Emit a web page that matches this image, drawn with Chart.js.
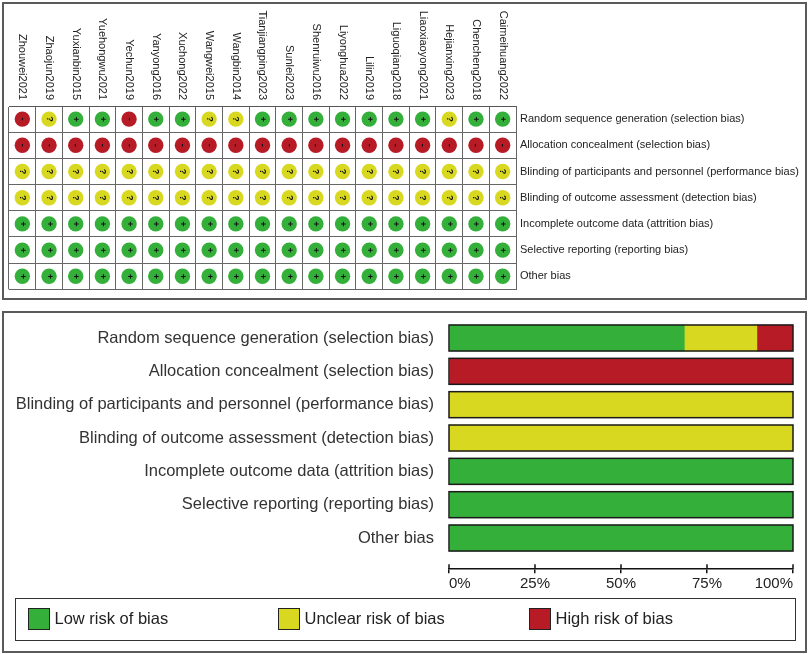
<!DOCTYPE html>
<html>
<head>
<meta charset="utf-8">
<script src="https://cdn.jsdelivr.net/npm/chart.js@4.4.1/dist/chart.umd.min.js"></script>
<style>
  html, body { margin: 0; padding: 0; background: #fff; }
  body { width: 809px; height: 654px; position: relative; overflow: hidden; font-family: "Liberation Sans", Arial, sans-serif; }
  .panel { position: absolute; box-sizing: border-box; border: 2px solid #5a5a5a; }
  #summaryPanel { left: 2px; top: 2px; width: 805px; height: 298px; }
  #graphPanel { left: 2px; top: 311px; width: 805px; height: 342px; }
  canvas { position: absolute; left: 0; }
  #summaryCanvas { top: 0; }
  #graphCanvas { top: 312px; }
  #legend { position: absolute; left: 15px; top: 598px; width: 781px; height: 43px; box-sizing: border-box; border: 1.5px solid #333; }
  .item { position: absolute; top: 8.5px; display: flex; align-items: center; font-size: 16.5px; color: #222; white-space: nowrap; }
  .swatch { width: 22px; height: 22px; box-sizing: border-box; border: 1.5px solid #222; margin-right: 5px; }
</style>
</head>
<body>
<div class="panel" id="summaryPanel"></div>
<div class="panel" id="graphPanel"></div>
<canvas id="summaryCanvas" width="809" height="300"></canvas>
<canvas id="graphCanvas" width="809" height="290"></canvas>
<div id="legend"></div>
<script>
const studies = [
  'Zhouwei2021', 'Zhaojun2019', 'Yuxianbin2015', 'Yuehongwu2021', 'Yechun2019',
  'Yanyong2016', 'Xuchong2022', 'Wangwei2015', 'Wangbin2014', 'Tianjiangping2023',
  'Sunlei2023', 'Shenruiwu2016', 'Liyonghua2022', 'Lilin2019', 'Liguoqiang2018',
  'Liaoxiaoyong2021', 'Hejianxing2023', 'Chencheng2018', 'Caimeihuang2022'
];

const domains = [
  'Random sequence generation (selection bias)',
  'Allocation concealment (selection bias)',
  'Blinding of participants and personnel (performance bias)',
  'Blinding of outcome assessment (detection bias)',
  'Incomplete outcome data (attrition bias)',
  'Selective reporting (reporting bias)',
  'Other bias'
];

// one judgement per study: '+' low, '?' unclear, '-' high
const randomSeq    = ['-','?','+','+','-','+','+','?','?','+','+','+','+','+','+','+','?','+','+'];
const allocation   = ['-','-','-','-','-','-','-','-','-','-','-','-','-','-','-','-','-','-','-'];
const blindPart    = ['?','?','?','?','?','?','?','?','?','?','?','?','?','?','?','?','?','?','?'];
const blindOutcome = ['?','?','?','?','?','?','?','?','?','?','?','?','?','?','?','?','?','?','?'];
const incomplete   = ['+','+','+','+','+','+','+','+','+','+','+','+','+','+','+','+','+','+','+'];
const selective    = ['+','+','+','+','+','+','+','+','+','+','+','+','+','+','+','+','+','+','+'];
const otherBias    = ['+','+','+','+','+','+','+','+','+','+','+','+','+','+','+','+','+','+','+'];
const judgementRows = [randomSeq, allocation, blindPart, blindOutcome, incomplete, selective, otherBias];

// percentage of studies per domain
const lowPct     = [68.4, 0, 0, 0, 100, 100, 100];
const unclearPct = [21.1, 0, 100, 100, 0, 0, 0];
const highPct    = [10.5, 100, 0, 0, 0, 0, 0];

const seriesNames = ['Low risk of bias', 'Unclear risk of bias', 'High risk of bias'];
const xTicks = [0, 25, 50, 75, 100];

const GREEN = '#33AF3A';
const YELLOW = '#D9D820';
const RED = '#B71C26';
const seriesColours = [GREEN, YELLOW, RED];
const riskColours = { '+': GREEN, '?': YELLOW, '-': RED };

const FONT = '"Liberation Sans", Arial, sans-serif';
Chart.defaults.font.family = FONT;

/* ---------- risk of bias summary grid ---------- */

const points = [];
judgementRows.forEach((row, r) => {
  row.forEach((j, c) => {
    points.push({ x: studies[c], y: domains[r], j: j });
  });
});

const glyphPlugin = {
  id: 'glyphs',
  afterDatasetsDraw(chart) {
    const ctx = chart.ctx;
    const meta = chart.getDatasetMeta(0);
    const data = chart.data.datasets[0].data;
    ctx.save();
    ctx.fillStyle = '#111';
    ctx.font = 'bold 9px ' + FONT;
    ctx.textAlign = 'center';
    ctx.textBaseline = 'middle';
    meta.data.forEach((el, i) => {
      ctx.save();
      ctx.translate(el.x, el.y);
      ctx.rotate(Math.PI / 2);
      ctx.fillText(data[i].j, 0, 0);
      ctx.restore();
    });
    ctx.restore();
  }
};

// study names read top to bottom, so they are drawn here instead of by the axis
const studyLabelPlugin = {
  id: 'studyLabels',
  afterDraw(chart) {
    const x = chart.scales.x;
    const ctx = chart.ctx;
    ctx.save();
    ctx.font = '11px ' + FONT;
    ctx.fillStyle = '#222';
    ctx.textAlign = 'right';
    ctx.textBaseline = 'middle';
    studies.forEach((name, i) => {
      ctx.save();
      ctx.translate(x.getPixelForValue(i), chart.chartArea.top - 6);
      ctx.rotate(Math.PI / 2);
      ctx.fillText(name, 0, 0);
      ctx.restore();
    });
    ctx.restore();
  }
};

new Chart(document.getElementById('summaryCanvas'), {
  type: 'scatter',
  data: {
    datasets: [{
      data: points,
      pointRadius: 7.7,
      pointHoverRadius: 7.7,
      pointBorderWidth: 0,
      pointBackgroundColor: points.map(p => riskColours[p.j])
    }]
  },
  options: {
    responsive: false,
    animation: false,
    events: [],
    layout: { padding: { left: 9, top: 106, right: 0, bottom: 7 } },
    plugins: { legend: { display: false }, tooltip: { enabled: false } },
    scales: {
      x: {
        type: 'category',
        labels: studies,
        position: 'top',
        offset: true,
        grid: { offset: true, color: '#666', drawTicks: false },
        border: { color: '#555' },
        ticks: { display: false },
        afterFit: s => { s.height = 0; }
      },
      y: {
        type: 'category',
        labels: domains,
        position: 'right',
        offset: true,
        grid: { offset: true, color: '#666', drawTicks: false },
        border: { color: '#666' },
        ticks: { autoSkip: false, padding: 4, color: '#222', font: { size: 11 } },
        afterFit: s => { s.width = 293; }
      }
    }
  },
  plugins: [glyphPlugin, studyLabelPlugin]
});

/* ---------- risk of bias graph ---------- */

const outlinePlugin = {
  id: 'barOutline',
  afterDatasetsDraw(chart) {
    const ctx = chart.ctx;
    const x = chart.scales.x;
    const left = x.getPixelForValue(x.min);
    const right = x.getPixelForValue(x.max);
    ctx.save();
    ctx.strokeStyle = '#1a1a1a';
    ctx.lineWidth = 1.5;
    chart.getDatasetMeta(0).data.forEach(bar => {
      ctx.strokeRect(left, bar.y - bar.height / 2, right - left, bar.height);
    });
    ctx.restore();
  }
};

// tick marks cross the axis line
const tickStubPlugin = {
  id: 'tickStubs',
  afterDraw(chart) {
    const ctx = chart.ctx;
    const x = chart.scales.x;
    const bottom = chart.chartArea.bottom;
    ctx.save();
    ctx.strokeStyle = '#111';
    ctx.lineWidth = 1.5;
    x.ticks.forEach(t => {
      const px = x.getPixelForValue(t.value);
      ctx.beginPath();
      ctx.moveTo(px, bottom - 4.5);
      ctx.lineTo(px, bottom);
      ctx.stroke();
    });
    ctx.restore();
  }
};

const barSeries = [lowPct, unclearPct, highPct];

new Chart(document.getElementById('graphCanvas'), {
  type: 'bar',
  data: {
    datasets: barSeries.map((values, s) => ({
      label: seriesNames[s],
      data: values.map((v, i) => ({ x: v, y: i })),
      backgroundColor: seriesColours[s],
      borderWidth: 0,
      barThickness: 26
    }))
  },
  options: {
    indexAxis: 'y',
    responsive: false,
    animation: false,
    events: [],
    layout: { padding: { left: 0, right: 16, top: 9.33, bottom: 0 } },
    plugins: { legend: { display: false }, tooltip: { enabled: false } },
    scales: {
      x: {
        type: 'linear',
        stacked: true,
        min: 0,
        max: 100,
        position: 'bottom',
        afterBuildTicks: s => { s.ticks = xTicks.map(v => ({ value: v })); },
        ticks: {
          callback: v => v + '%',
          align: 'inner',
          maxRotation: 0,
          padding: 1.8,
          color: '#222',
          font: { size: 15 }
        },
        grid: { drawOnChartArea: false, tickLength: 4.5, color: '#111', lineWidth: 1.5 },
        border: { color: '#111', width: 1.5 },
        afterFit: s => { s.height = 290 - 256.7; s.paddingLeft = 0; s.paddingRight = 0; }
      },
      y: {
        type: 'linear',
        stacked: true,
        reverse: true,
        offset: false,
        min: -0.5,
        max: 6.92,
        afterBuildTicks: s => { s.ticks = domains.map((d, i) => ({ value: i })); },
        ticks: {
          autoSkip: false,
          padding: 15,
          callback: v => domains[v] ?? '',
          color: '#333',
          font: { size: 16.5 }
        },
        grid: { display: false, drawTicks: false, offset: false },
        border: { display: false },
        afterFit: s => { s.width = 449; s.paddingTop = 0; s.paddingBottom = 0; }
      }
    }
  },
  plugins: [outlinePlugin, tickStubPlugin]
});

/* ---------- legend ---------- */

const legend = document.getElementById('legend');
const legendLeft = [11.5, 261.5, 512.5];
seriesNames.forEach((name, i) => {
  const item = document.createElement('div');
  item.className = 'item';
  item.style.left = legendLeft[i] + 'px';
  const swatch = document.createElement('span');
  swatch.className = 'swatch';
  swatch.style.background = seriesColours[i];
  const text = document.createElement('span');
  text.textContent = name;
  item.appendChild(swatch);
  item.appendChild(text);
  legend.appendChild(item);
});
</script>
</body>
</html>
